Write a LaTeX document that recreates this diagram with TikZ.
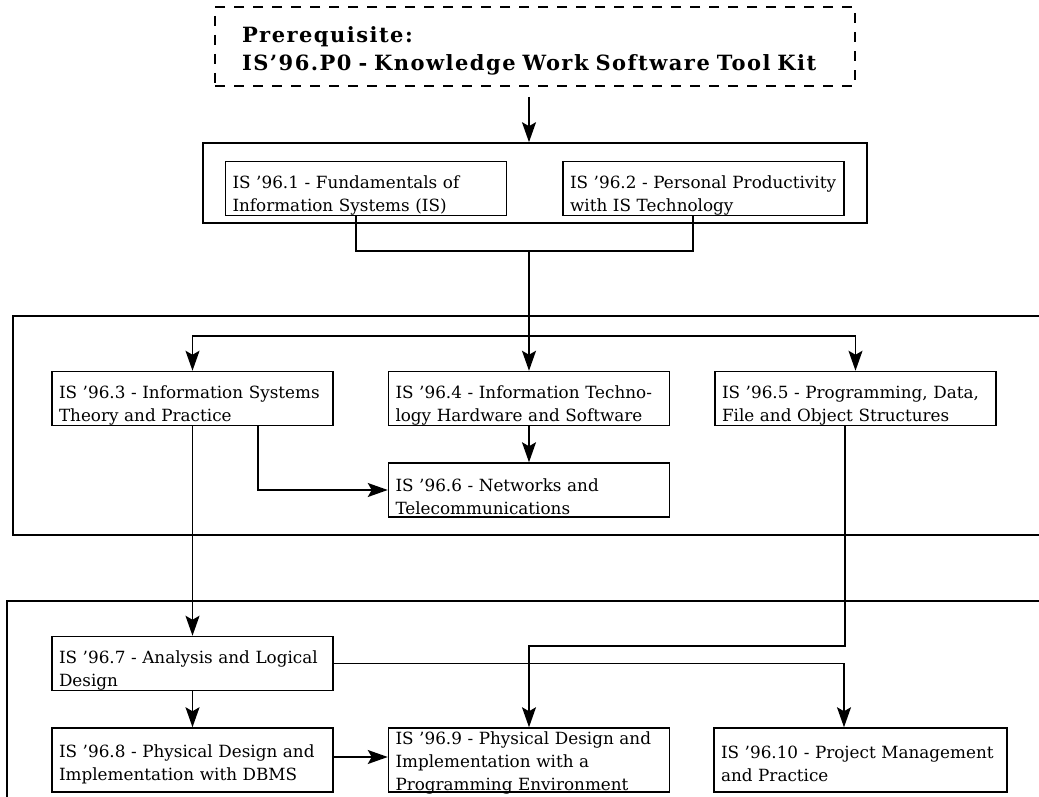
\documentclass[tikz,border=0pt]{standalone}
\usepackage{fontspec}
\newfontfamily\coursefont{DejaVu Serif}
\newfontfamily\prereqfont[LetterSpace=7]{DejaVu Serif}
\usepackage{tikz}
\usetikzlibrary{arrows.meta, positioning}

\begin{document}
\begin{tikzpicture}[
    x=1pt, y=-1pt, % one unit per pixel, y going down the page
    course/.style={draw, rectangle, line width=1.5pt, minimum height=54pt, text width=267pt, inner xsep=7pt, inner ysep=0pt, text height=26pt, align=left, font={\coursefont\fontsize{16.8}{23}\selectfont}},
    prereq/.style={draw, dashed, dash pattern=on 10pt off 9pt, line width=1.6pt, minimum height=79pt, text width=586pt, inner xsep=27pt, inner ysep=0pt, text height=24.5pt, align=left, font={\prereqfont\bfseries\fontsize{21}{28}\selectfont}}, % dashed box on top
    group/.style={draw, rectangle, line width=1.6pt}, % frame round a block of courses
    line/.style={draw, -{Stealth[length=20pt, width=14pt, inset=4pt]}, line width=1.6pt},
    link/.style={draw, line width=1.6pt}
]

\useasboundingbox (0,0) rectangle (1039,797);
\clip (0,0) rectangle (1039,797);

% Prerequisite
\node[prereq] (pre) at (535,46.5) {Prerequisite:\\IS’96.P0 - Knowledge Work Software Tool Kit};

% Frames
\node[group, below of=pre, node distance=136.5pt, minimum width=664pt, minimum height=80pt] (grp1) {};
\node[group, minimum width=1047pt, minimum height=219pt] (grp2) at (536.5,425.5) {};
\node[group, minimum width=1053pt, minimum height=229pt] (grp3) at (533.5,715.5) {};

% First block
\node[course] (b1) at (366,188.5) {IS ’96.1 - Fundamentals of\\Information Systems (IS)};
\node[course, right of=b1, node distance=337.5pt] (b2) {IS ’96.2 - Personal Productivity\\with IS Technology};

% Second block
\node[course] (b3) at (192.5,398.5) {IS ’96.3 - Information Systems\\Theory and Practice};
\node[course, right of=b3, node distance=336.5pt] (b4) {IS ’96.4 - Information Techno-\\logy Hardware and Software};
\node[course, right of=b4, node distance=326.5pt] (b5) {IS ’96.5 - Programming, Data,\\File and Object Structures};
\node[course, below of=b4, node distance=91.5pt] (b6) {IS ’96.6 - Networks and\\Telecommunications};

% Third block
\node[course] (b7) at (192.5,663.5) {IS ’96.7 - Analysis and Logical\\Design};
\node[course, below of=b7, node distance=96.5pt, minimum height=64pt, text height=21pt] (b8) {IS ’96.8 - Physical Design and\\Implementation with DBMS};
\node[course, right of=b8, node distance=336.5pt, minimum height=64pt, text height=14pt] (b9) {IS ’96.9 - Physical Design and\\Implementation with a\\\smash{Programming Environment}};
\node[course, right of=b9, node distance=331.5pt, minimum height=64pt, text height=21pt, text width=279pt] (b10) {IS ’96.10 - Project Management\\and Practice};

% Junctions
\coordinate (hub) at (529,251);
\coordinate (split) at (529,336);
\coordinate (turn) at (845,646);

% Arrows
\path[line] ([yshift=-10pt]pre.south -| hub) -- (grp1.north -| hub);
\path[link] ([xshift=-10pt]b1.south) |- (hub) -| ([xshift=-10.5pt]b2.south);
\path[line] (hub) -- (b4.north);
\path[line] (split) -| (b3.north);
\path[line] (split) -| (b5.north);
\path[line] (b4) -- (b6);
\path[line] ([xshift=65.5pt]b3.south) |- (b6.west);
\path[line] (b3) -- (b7);
\path[line] (b5.south -| turn) -- (turn) -| (b9.north);
\path[line] (b7.east) -| ([xshift=-16.5pt]b10.north);
\path[line] (b7) -- (b8);
\path[line] ([yshift=3pt]b8.east) -- ([yshift=3pt]b9.west);

\end{tikzpicture}
\end{document}
